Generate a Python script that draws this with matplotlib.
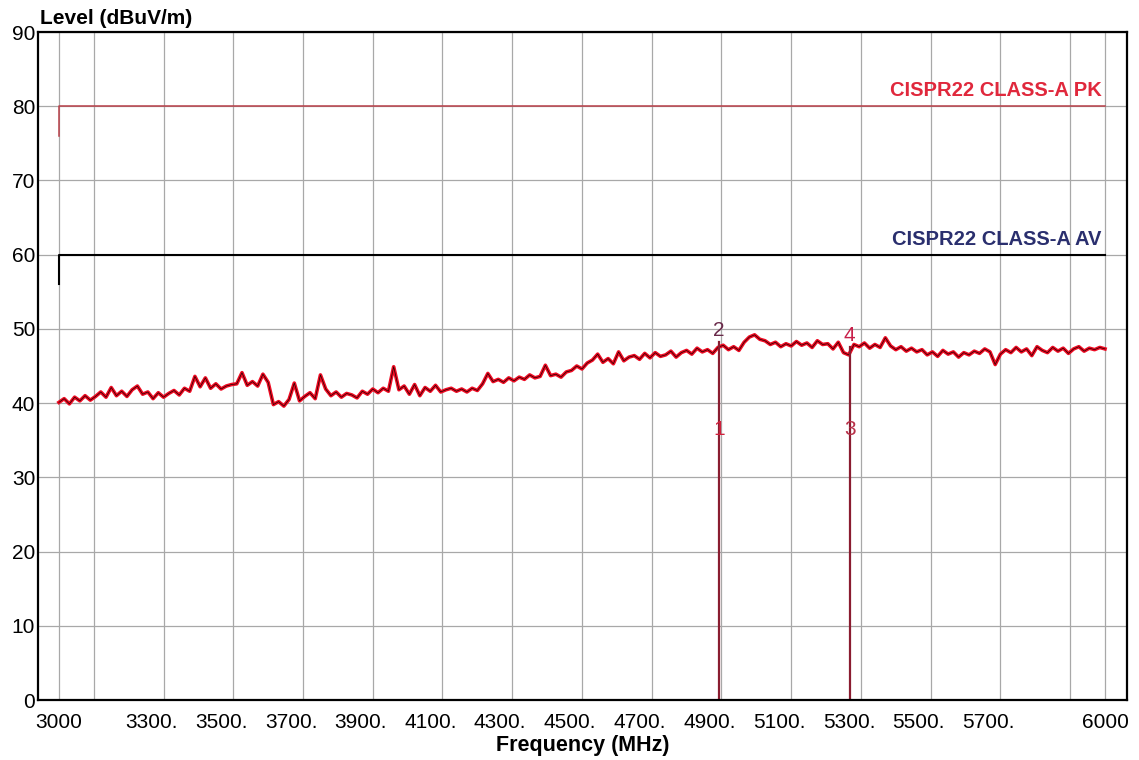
import numpy as np
import matplotlib
matplotlib.use("Agg")
import matplotlib.pyplot as plt
from matplotlib.transforms import ScaledTranslation

plt.rcParams["font.family"] = ["Liberation Sans", "DejaVu Sans"]

# measured trace (dBuV/m), evenly spaced sweep from 3000 to 6000 MHz
level = [
    40.1, 40.6, 39.9, 40.8, 40.3, 41.0, 40.4, 40.9,
    41.5, 40.8, 42.1, 41.0, 41.6, 40.9, 41.8, 42.3, 41.2, 41.5,
    40.6, 41.4, 40.8, 41.3, 41.7, 41.1, 42.0, 41.6,
    43.6, 42.2, 43.4, 42.0, 42.6, 41.9, 42.3, 42.5,
    42.6, 44.1, 42.4, 42.9, 42.3, 43.9, 42.8,
    39.8,
    40.2, 39.6, 40.5, 42.7, 40.3,
    40.9, 41.4, 40.6, 43.8, 41.9,
    41.0, 41.5, 40.8, 41.3, 41.1, 40.7, 41.6, 41.2, 41.9, 41.4,
    42.0, 41.6, 44.9, 41.8,
    42.3, 41.2, 42.5, 41.0, 42.1, 41.6, 42.4, 41.5,
    41.8, 42.0, 41.6, 41.9, 41.5, 42.0, 41.7,
    42.6, 44.0, 42.9, 43.2, 42.8, 43.4, 43.0,
    43.5, 43.2, 43.8, 43.4, 43.6, 45.1, 43.7, 43.9, 43.5, 44.2,
    44.4, 45.0, 44.6, 45.4, 45.8,
    46.6, 45.5, 46.0, 45.3, 46.9, 45.7, 46.2,
    46.4, 45.9, 46.7, 46.1, 46.8, 46.3, 46.5, 47.0, 46.2, 46.8,
    47.1, 46.6, 47.4, 46.9, 47.2, 46.7, 47.5,
    47.8, 47.2, 47.6, 47.1, 48.2,
    48.9, 49.2, 48.6, 48.4,
    47.9, 48.2, 47.6, 48.0, 47.7, 48.3, 47.8,
    48.1, 47.5, 48.4, 47.9, 48.0, 47.3, 48.2,
    46.8, 46.5,
    47.9, 47.6, 48.1, 47.4, 47.9, 47.5, 48.8, 47.7, 47.2, 47.6, 47.0, 47.4,
    46.9, 47.2, 46.5, 46.9, 46.3, 47.1, 46.6, 46.9, 46.2, 46.8, 46.5, 47.0, 46.7, 47.3, 46.9, 45.2,
    46.6, 47.2, 46.8, 47.5, 46.9, 47.3, 46.4, 47.6, 47.1, 46.8, 47.5, 47.0, 47.4, 46.7, 47.3, 47.6,
    47.0, 47.4, 47.2, 47.5, 47.3,
]
freq = np.linspace(3000, 6000, len(level))

# CISPR22 class A limits (below / above 3 GHz)
limit_freq = [3000, 3000, 6000]
pk_limit = [76, 80, 80]
av_limit = [56, 60, 60]

marker_ids = ["1", "2", "3", "4"]
marker_freq = [4893, 4893, 5268, 5268]
marker_level = [36.4, 48.3, 36.4, 47.6]
marker_colors = ["#d0203c", "#6a2a4a", "#b83048", "#c8204a"]

tick_pos = [3000, 3300, 3500, 3700, 3900, 4100, 4300, 4500, 4700, 4900,
            5100, 5300, 5500, 5700, 6000]
tick_labels = ["3000"] + [f"{t}." for t in tick_pos[1:-1]] + ["6000"]
minor_pos = [3100, 5900]

fig = plt.figure(figsize=(11.39, 7.6), dpi=100)
ax = fig.add_axes([38 / 1139, 1 - 700 / 760, (1127 - 38) / 1139, (700 - 32) / 760])

ax.set_xlim(2940, 6063)
ax.set_ylim(0, 90)
ax.set_yticks(range(0, 91, 10))
ax.set_xticks(tick_pos)
ax.set_xticklabels(tick_labels)
ax.set_xticks(minor_pos, minor=True)
ax.grid(True, which="both", color="#a8a8a8", lw=0.9)
ax.set_axisbelow(True)
ax.tick_params(which="both", length=0, labelsize=15)
ax.tick_params(axis="x", pad=9)
ax.tick_params(axis="y", pad=2)
for sp in ax.spines.values():
    sp.set_linewidth(1.6)

# shift the middle x labels a bit to the left like the original
shift = ScaledTranslation(-12 / 100, 0, fig.dpi_scale_trans)
for lab in ax.get_xticklabels()[1:-1]:
    lab.set_transform(lab.get_transform() + shift)

ax.plot(limit_freq, pk_limit, color="#b8404a", lw=1.1)
ax.plot(limit_freq, av_limit, color="black", lw=1.5)
ax.text(5990, 80.8, "CISPR22 CLASS-A PK", color="#e0283c", fontsize=14.5,
        fontweight="bold", ha="right", va="bottom")
ax.text(5990, 60.8, "CISPR22 CLASS-A AV", color="#2a2f6e", fontsize=14.5,
        fontweight="bold", ha="right", va="bottom")

ax.plot(freq, level, color="#ee0a22", lw=2.6)
ax.plot(freq, level, color="#200000", lw=0.5)

for mf, top in [(marker_freq[1], marker_level[1]), (marker_freq[3], marker_level[3])]:
    ax.plot([mf, mf], [0, top], color="#8a1c30", lw=1.6)

for mid, mf, ml, mc in zip(marker_ids, marker_freq, marker_level, marker_colors):
    y = ml + 1.5 if mid in ("2", "4") else ml
    ax.text(mf, y, mid, color=mc, fontsize=15, ha="center", va="center")

fig.text(40 / 1139, 1 - 18 / 760, "Level (dBuV/m)", fontsize=15,
         fontweight="bold", ha="left", va="center")
fig.text(583 / 1139, 1 - 745 / 760, "Frequency (MHz)", fontsize=15.5,
         fontweight="bold", ha="center", va="center")

fig.savefig("out.png", dpi=100)
